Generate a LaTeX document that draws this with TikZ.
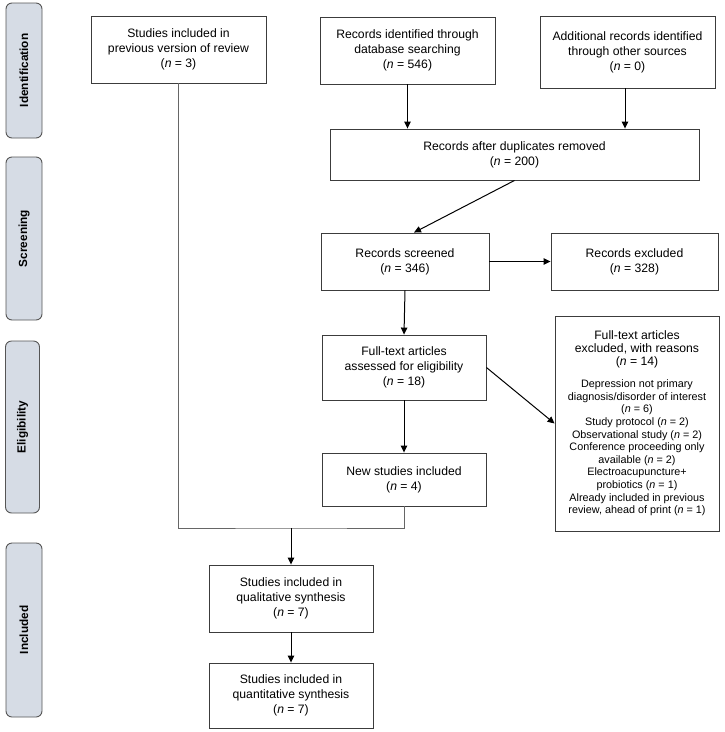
\documentclass[tikz,border=0pt]{standalone}
\usepackage{fontspec}
\setmainfont{Liberation Sans}
\usepackage{tikz}
\usetikzlibrary{arrows.meta, positioning, calc}
\definecolor{phasefill}{RGB}{214, 220, 229}
\definecolor{phaseline}{RGB}{85, 85, 85}
\definecolor{boxline}{RGB}{60, 60, 60}
\newcommand\headsize{\fontsize{12.2}{14.3}\selectfont}

\begin{document}
\begin{tikzpicture}[
  x=1pt, y=-1pt,
  box/.style={draw=boxline, line width=0.9pt, fill=white, align=center, inner sep=2pt,
    font=\fontsize{12.2}{15}\selectfont},
  phase/.style={draw=phaseline, line width=0.9pt, fill=phasefill, rounded corners=6pt,
    rotate=90, minimum height=36pt, font=\fontsize{11.8}{13}\selectfont\bfseries},
  arr/.style={-{Triangle[length=7pt, width=6.5pt]}, line width=1pt, black}
]
  \useasboundingbox (0,0) rectangle (724,732);

  % phase labels
  \node[phase, minimum width=135pt] (ident) at (24, 70.5) {Identification};
  \node[phase, minimum width=163pt] (screen) at (24, 238.5) {Screening};
  \node[phase, minimum width=172pt, minimum height=34pt] (elig) at (22.5, 427) {Eligibility};
  \node[phase, minimum width=174pt] (incl) at (24, 630) {Included};

  % boxes
  \node[box, minimum width=175pt, minimum height=67pt] (prev) at (178.5, 49.5)
    {Studies included in\\previous version of review\\(\textit{n} = 3)};
  \node[box, minimum width=175pt, minimum height=67pt] (db) at (407.5, 50.5)
    {Records identified through\\database searching\\(\textit{n} = 546)};
  \node[box, minimum width=175pt, minimum height=72pt] (other) at (627.5, 52)
    {Additional records identified\\through other sources\\(\textit{n} = 0)};
  \node[box, minimum width=369pt, minimum height=51pt] (dup) at (514.5, 154.5)
    {Records after duplicates removed\\(\textit{n} = 200)};
  \node[box, minimum width=168pt, minimum height=57pt] (scr) at (405, 261.5)
    {Records screened\\(\textit{n} = 346)};
  \node[box, minimum width=167pt, minimum height=57pt] (excl) at (634.5, 261.5)
    {Records excluded\\(\textit{n} = 328)};
  \node[box, minimum width=164pt, minimum height=65pt] (full) at (404, 367.5)
    {Full-text articles\\assessed for eligibility\\(\textit{n} = 18)};
  \node[box, minimum width=164pt, minimum height=53pt] (new) at (404, 479.5)
    {New studies included\\(\textit{n} = 4)};
  \node[box, minimum width=164pt, minimum height=215pt, font=\fontsize{10.8}{12.6}\selectfont]
    (reason) at (637, 423.5)
    {\headsize Full-text articles\\\headsize excluded, with reasons\\
     \headsize (\textit{n} = 14)\\[10pt]
     Depression not primary\\diagnosis/disorder of interest\\(\textit{n} = 6)\\
     Study protocol (\textit{n} = 2)\\Observational study (\textit{n} = 2)\\
     Conference proceeding only\\available (\textit{n} = 2)\\
     Electroacupuncture+\\probiotics (\textit{n} = 1)\\
     Already included in previous\\review, ahead of print (\textit{n} = 1)};
  \node[box, minimum width=164pt, minimum height=67pt] (qual) at (291, 598.5)
    {Studies included in\\qualitative synthesis\\(\textit{n} = 7)};
  \node[box, minimum width=164pt, minimum height=65pt] (quant) at (291, 695.5)
    {Studies included in\\quantitative synthesis\\(\textit{n} = 7)};

  \coordinate (join) at (291, 528);

  % connectors
  \draw[arr] (db.south) -- (db.south |- dup.north);
  \draw[arr] ([xshift=-2.5pt]other.south) -- ([xshift=-2.5pt]other.south |- dup.north);
  \draw[arr] (dup.south) -- ([xshift=9pt]scr.north);
  \draw[arr] (scr.east) -- (excl.west);
  \draw[arr] (scr.south) -- (full.north);
  \draw[arr] (full.east) -- (reason.west);
  \draw[arr] (full.south) -- (new.north);
  \draw[line width=1pt, black!60] (prev.south) |- (join) -| (new.south);
  \draw[arr] (join) -- (qual.north);
  \draw[arr] (qual.south) -- (quant.north);
\end{tikzpicture}
\end{document}
